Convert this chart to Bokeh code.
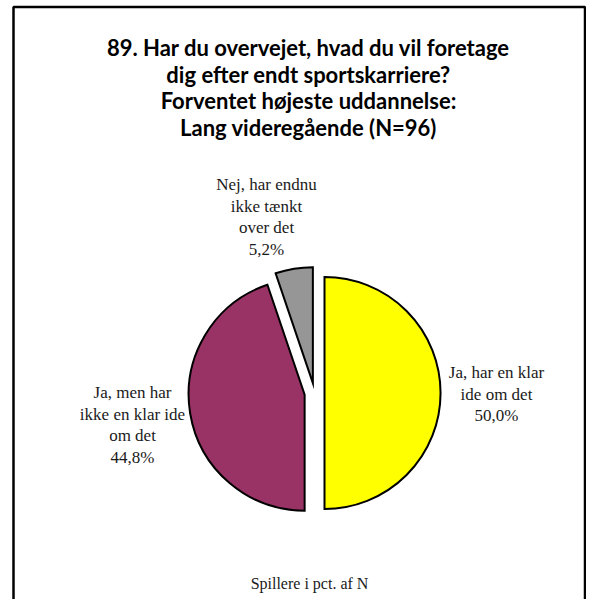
import numpy as np
from bokeh.plotting import figure
from bokeh.models import Range1d
from bokeh.core.properties import value
from bokeh.embed import file_html
from bokeh.resources import INLINE

# ---- data ----
title_lines = [
    "89. Har du overvejet, hvad du vil foretage",
    "dig efter endt sportskarriere?",
    "Forventet højeste uddannelse:",
    "Lang videregående (N=96)",
]
categories = [
    "Ja, har en klar ide om det",
    "Ja, men har ikke en klar ide om det",
    "Nej, har endnu ikke tænkt over det",
]
label_lines = [
    ["Ja, har en klar", "ide om det"],
    ["Ja, men har", "ikke en klar ide", "om det"],
    ["Nej, har endnu", "ikke tænkt", "over det"],
]
percent = [50.0, 44.8, 5.2]
colors = ["#FFFF00", "#993366", "#969696"]
footer = "Spillere i pct. af N"

# ---- layout (image pixel coordinates; data y = H - image y) ----
W, H = 586, 599
def Y(py):
    return H - py

cx, cy, R, EXPLODE = 314, Y(392.5), 116, 10
label_pos = [(496, 372), (132, 392), (266, 184)]   # first line centre of each label
LINE_H = 21.7
TITLE_X, TITLE_Y0, TITLE_DY = 308, 47, 26.7

p = figure(width=W, height=H, output_backend="svg", toolbar_location=None,
           x_range=Range1d(0, W), y_range=Range1d(0, H),
           min_border=0, outline_line_color=None)
p.axis.visible = False
p.grid.visible = False
p.background_fill_color = "white"
p.border_fill_color = "white"

# frame (open at the bottom, like the reference)
p.multi_line(xs=[[13, 13, 584.5, 584.5]], ys=[[Y(640), Y(6.5), Y(6.5), Y(640)]],
             line_color="black", line_width=2.5)

# pie
cum = np.concatenate([[0], np.cumsum(percent)[:-1]])
starts = np.radians(90 - cum * 3.6)
ends = np.radians(90 - (cum + np.array(percent)) * 3.6)
mids = (starts + ends) / 2
xs = cx + EXPLODE * np.cos(mids)
ys = cy + EXPLODE * np.sin(mids)
p.wedge(x=xs, y=ys, radius=R, radius_units="screen", start_angle=starts, end_angle=ends,
        direction="clock", fill_color=colors, line_color="black", line_width=2,
        line_join="miter")

# slice labels
for lines, pct, (lx, ly) in zip(label_lines, percent, label_pos):
    allines = lines + [f"{pct:.1f}".replace(".", ",") + "%"]
    p.text(x=[lx] * len(allines), y=[Y(ly + i * LINE_H) for i in range(len(allines))],
           text=allines, text_align="center", text_baseline="middle",
           text_font=value("Liberation Serif"), text_font_size="17px", text_color="#1a1a1a")

# title
p.text(x=[TITLE_X] * len(title_lines), y=[Y(TITLE_Y0 + i * TITLE_DY) for i in range(len(title_lines))],
       text=title_lines, text_align="center", text_baseline="middle",
       text_font=value("Lato"), text_font_style="bold", text_font_size="22px", text_color="black")

# footer
p.text(x=[309], y=[Y(583)], text=[footer], text_align="center", text_baseline="middle",
       text_font=value("Liberation Serif"), text_font_size="16px", text_color="#1a1a1a")

open("out.html", "w").write(file_html(p, INLINE))
